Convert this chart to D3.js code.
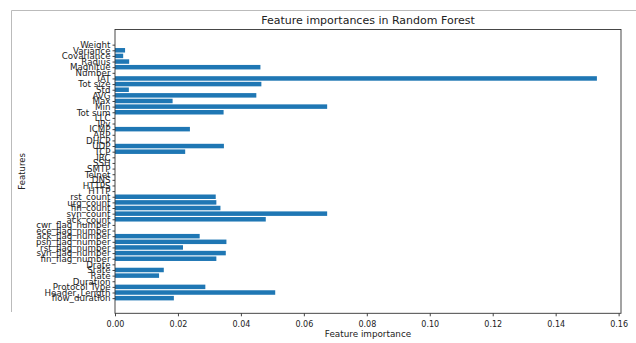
<!DOCTYPE html>
<html>
<head>
<meta charset="utf-8">
<script src="https://cdn.jsdelivr.net/npm/d3@7"></script>
<style>
  html, body { margin: 0; padding: 0; background: #fff; }
  svg { display: block; }
  text { font-family: "DejaVu Sans", sans-serif; fill: #222; }
</style>
</head>
<body>
<svg id="chart" width="636" height="343"></svg>
<script>
// Features, bottom (index 0) to top
const features = ["flow_duration","Header_Length","Protocol Type","Duration","Rate","Srate","Drate",
  "fin_flag_number","syn_flag_number","rst_flag_number","psh_flag_number","ack_flag_number",
  "ece_flag_number","cwr_flag_number","ack_count","syn_count","fin_count","urg_count","rst_count",
  "HTTP","HTTPS","DNS","Telnet","SMTP","SSH","IRC","TCP","UDP","DHCP","ARP","ICMP","IPv","LLC",
  "Tot sum","Min","Max","AVG","Std","Tot size","IAT","Number","Magnitue","Radius","Covariance",
  "Variance","Weight"];
const importances = [0.0187,0.0509,0.0287,0.0,0.0140,0.0155,0.0,
  0.0322,0.0352,0.0216,0.0354,0.0269,
  0.0,0.0,0.0479,0.0674,0.0335,0.0322,0.0320,
  0.0,0.0,0.0,0.0,0.0,0.0,0.0,0.0223,0.0346,0.0,0.0,0.0238,0.0,0.0,
  0.0345,0.0674,0.0183,0.0449,0.0044,0.0465,0.1531,0.0,0.0462,0.0045,0.0026,
  0.0032,0.0];
const xTicks = [0, 0.02, 0.04, 0.06, 0.08, 0.10, 0.12, 0.14, 0.16];
const titleText = "Feature importances in Random Forest";
const xLabel = "Feature importance";
const yLabel = "Features";

const svg = d3.select("#chart");
const L = 115, R = 621, T = 29.5, B = 313.3;
const n = features.length;
const span = (n - 1) + 0.8;
const x = d3.scaleLinear().domain([0, d3.max(importances) * 1.05]).range([L, R]);
const y = d3.scaleLinear().domain([-0.4 - 0.05 * span, n - 0.6 + 0.05 * span]).range([B, T]);

// outer screenshot frame
svg.append("line").attr("x1", 11.5).attr("x2", 636).attr("y1", 10.5).attr("y2", 10.5)
  .attr("stroke", "#bbb").attr("stroke-width", 1);
svg.append("line").attr("x1", 11.5).attr("x2", 11.5).attr("y1", 10.5).attr("y2", 312)
  .attr("stroke", "#bbb").attr("stroke-width", 1);

// bars
svg.append("g").selectAll("rect").data(importances).join("rect")
  .attr("x", x(0))
  .attr("y", (d, i) => y(i + 0.4))
  .attr("width", d => x(d) - x(0))
  .attr("height", (d, i) => y(i - 0.4) - y(i + 0.4))
  .attr("fill", "#1f77b4");

// axes
const xAxis = d3.axisBottom(x).tickValues(xTicks).tickFormat(d3.format(".2f")).tickSize(3).tickSizeOuter(0);
const gx = svg.append("g").attr("transform", `translate(0,${B})`).call(xAxis);
gx.select(".domain").remove();
gx.selectAll("text").attr("font-size", 8).attr("dy", "0.95em").attr("fill", "#333");
gx.selectAll("line").attr("stroke", "#444");

const yAxis = d3.axisLeft(y).tickValues(d3.range(n)).tickFormat(i => features[i]).tickSize(2.5).tickSizeOuter(0);
const gy = svg.append("g").attr("transform", `translate(${L},0)`).call(yAxis);
gy.select(".domain").remove();
gy.selectAll("text").attr("font-size", 8.7).attr("x", -4.5).attr("fill", "#333");
gy.selectAll("line").attr("stroke", "#444");

// frame (spines)
svg.append("rect").attr("x", L).attr("y", T).attr("width", R - L).attr("height", B - T)
  .attr("fill", "none").attr("stroke", "#333").attr("stroke-width", 0.9);

// title and labels
svg.append("text").attr("x", (L + R) / 2).attr("y", 23.5).attr("text-anchor", "middle")
  .attr("font-size", 11).text(titleText);
svg.append("text").attr("x", (L + R) / 2).attr("y", 337).attr("text-anchor", "middle")
  .attr("font-size", 8.8).text(xLabel);
svg.append("text").attr("transform", `translate(25,${(T + B) / 2}) rotate(-90)`)
  .attr("text-anchor", "middle").attr("font-size", 8.5).text(yLabel);
</script>
</body>
</html>
